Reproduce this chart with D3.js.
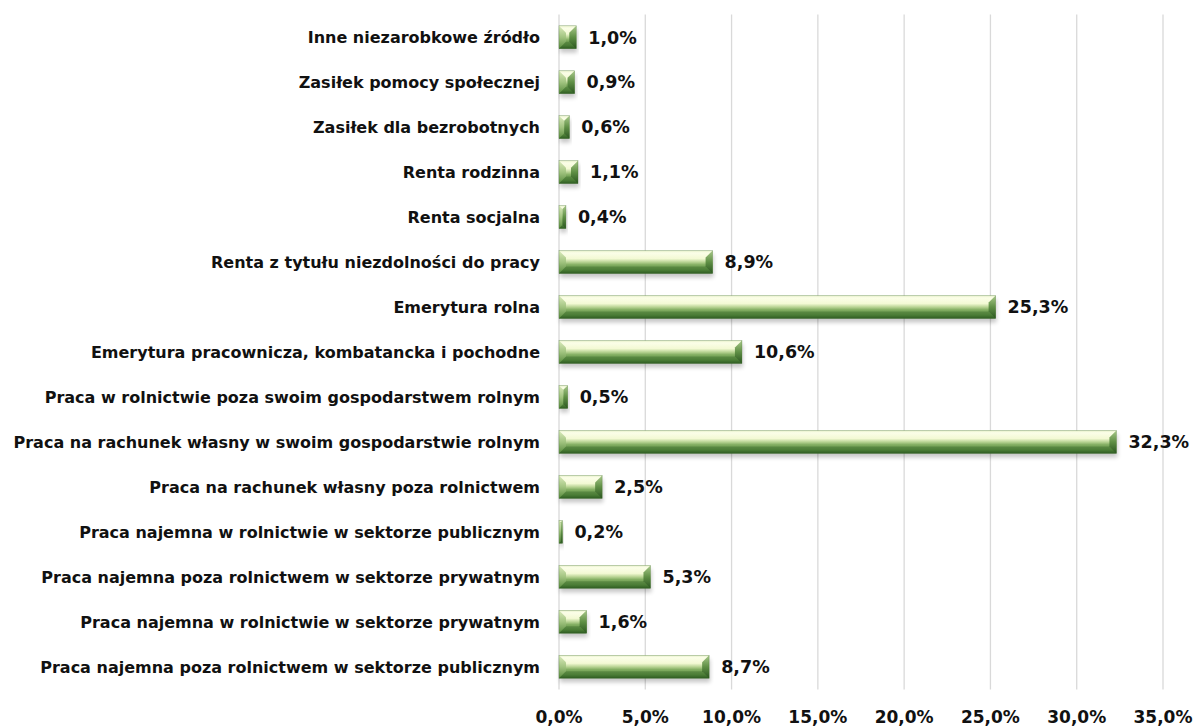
<!DOCTYPE html>
<html><head><meta charset="utf-8">
<script src="https://cdn.jsdelivr.net/npm/d3@7"></script>
<style>body{margin:0;background:#fff}svg{display:block}text{font-family:"DejaVu Sans",sans-serif;font-weight:bold;fill:#111}</style>
</head><body><svg id="c" width="1196" height="727"></svg>
<script>
const categories = [
 "Inne niezarobkowe źródło",
 "Zasiłek pomocy społecznej",
 "Zasiłek dla bezrobotnych",
 "Renta rodzinna",
 "Renta socjalna",
 "Renta z tytułu niezdolności do pracy",
 "Emerytura rolna",
 "Emerytura pracownicza, kombatancka i pochodne",
 "Praca w rolnictwie poza swoim gospodarstwem rolnym",
 "Praca na rachunek własny w swoim gospodarstwie rolnym",
 "Praca na rachunek własny poza rolnictwem",
 "Praca najemna w rolnictwie w sektorze publicznym",
 "Praca najemna poza rolnictwem w sektorze prywatnym",
 "Praca najemna w rolnictwie w sektorze prywatnym",
 "Praca najemna poza rolnictwem w sektorze publicznym"
];
const values = [1.0, 0.9, 0.6, 1.1, 0.4, 8.9, 25.3, 10.6, 0.5, 32.3, 2.5, 0.2, 5.3, 1.6, 8.7];
const xTicks = [0, 5, 10, 15, 20, 25, 30, 35];

const svg = d3.select("#c");
const fmt = v => v.toFixed(1).replace(".", ",") + "%";
const x = d3.scaleLinear().domain([0, 35]).range([559, 1163]);
const y = d3.scaleBand().domain(categories).range([14.5, 689.5]).paddingInner(0.49).paddingOuter(0.25);

const defs = svg.append("defs");
const g1 = defs.append("linearGradient").attr("id","gBar").attr("x1",0).attr("y1",0).attr("x2",0).attr("y2",1);
[[0,"#e6f0c8"],[0.1,"#fbfee8"],[0.35,"#f3f9d4"],[0.5,"#b9d494"],[0.62,"#83ae62"],[0.85,"#5b8f41"],[1,"#2f5d22"]].forEach(([o,c])=>g1.append("stop").attr("offset",o).attr("stop-color",c));
const g2 = defs.append("linearGradient").attr("id","gCap").attr("x1",0).attr("y1",0).attr("x2",0).attr("y2",1);
[[0,"#a9c98a"],[0.5,"#5f8f45"],[1,"#2a5520"]].forEach(([o,c])=>g2.append("stop").attr("offset",o).attr("stop-color",c));
const g3 = defs.append("linearGradient").attr("id","gLeft").attr("x1",0).attr("y1",0).attr("x2",0).attr("y2",1);
[[0,"#dcebbd"],[0.5,"#a2c480"],[1,"#568a3c"]].forEach(([o,c])=>g3.append("stop").attr("offset",o).attr("stop-color",c));
defs.append("filter").attr("id","blur").attr("x","-10%").attr("y","-50%").attr("width","120%").attr("height","200%")
  .append("feGaussianBlur").attr("stdDeviation",2);

// grid
svg.append("g").selectAll("line").data(xTicks).join("line")
  .attr("x1",d=>x(d)).attr("x2",d=>x(d)).attr("y1",14.5).attr("y2",689.5)
  .attr("stroke","#d9d9d9").attr("stroke-width",1.3);

// x tick labels
svg.append("g").selectAll("text").data(xTicks).join("text")
  .attr("x",d=>x(d)).attr("y",723).attr("text-anchor","middle")
  .style("font-size","17px").text(d=>fmt(d));

const bars = svg.append("g").selectAll("g").data(categories).join("g");
bars.each(function(c,i){
  const gg = d3.select(this);
  const x0 = x(0), x1 = x(values[i]), y0 = y(c), h = y.bandwidth(), y1 = y0 + h;
  const w = x1 - x0;
  const b = Math.min(7, w/2, h/3);
  gg.append("rect").attr("x",x0+1).attr("y",y0+4).attr("width",w).attr("height",h)
    .attr("fill","#000").attr("opacity",0.22).attr("filter","url(#blur)");
  gg.append("rect").attr("x",x0).attr("y",y0).attr("width",w).attr("height",h).attr("fill","url(#gBar)");
  gg.append("polygon").attr("points",[[x0,y0],[x0+b,y0+b],[x0+b,y1-b],[x0,y1]].map(p=>p.join(",")).join(" "))
    .attr("fill","url(#gLeft)");
  gg.append("polygon").attr("points",[[x1,y0],[x1-b,y0+b],[x1-b,y1-b],[x1,y1]].map(p=>p.join(",")).join(" "))
    .attr("fill","url(#gCap)");
  gg.append("polygon").attr("points",[[x0,y1],[x0+b,y1-b],[x1-b,y1-b],[x1,y1]].map(p=>p.join(",")).join(" "))
    .attr("fill","#2f5d22").attr("opacity",0.35);
  gg.append("rect").attr("x",x0).attr("y",y0).attr("width",w).attr("height",h)
    .attr("fill","none").attr("stroke","#3f6f2e").attr("stroke-width",0.6).attr("opacity",0.5);
  gg.append("text").attr("x",x1+12).attr("y",y0+h/2).attr("dy","0.36em")
    .style("font-size","17.5px").text(fmt(values[i]));
});

// category labels
const lab = svg.append("g").selectAll("text").data(categories).join("text")
  .attr("x",540).attr("y",d=>y(d)+y.bandwidth()/2).attr("dy","0.36em").attr("text-anchor","end")
  .style("font-size","15px").text(d=>d);
let maxW = 0; lab.each(function(){ maxW = Math.max(maxW, this.getComputedTextLength()); });
const fs = 15 * 532 / maxW;
lab.style("font-size", Math.min(fs, 16) + "px");
</script></body></html>
